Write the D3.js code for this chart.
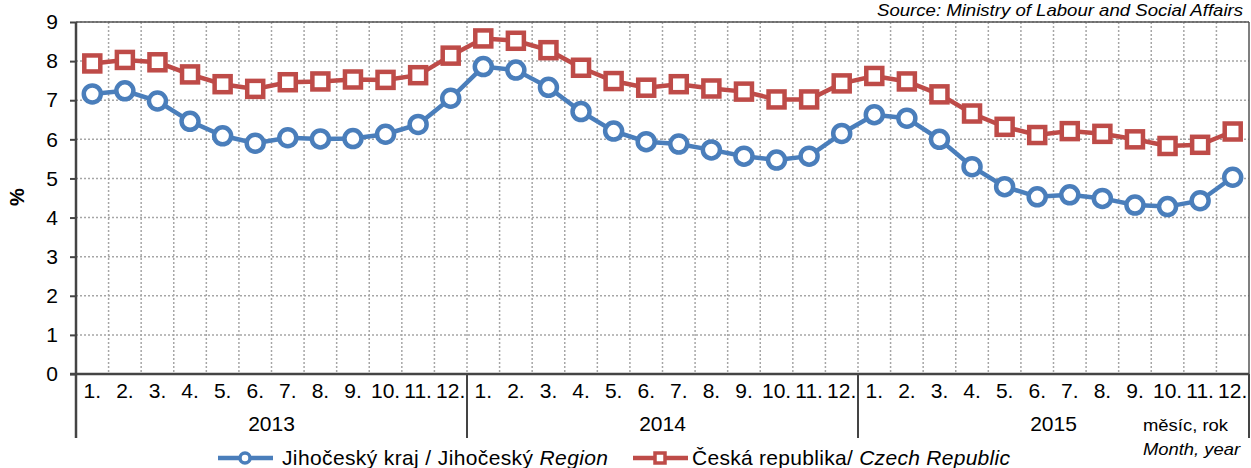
<!DOCTYPE html>
<html>
<head>
<meta charset="utf-8">
<script src="https://cdn.jsdelivr.net/npm/d3@7"></script>
<style>
  body { margin: 0; background: #fff; }
  text { font-family: "Liberation Sans", Arial, sans-serif; fill: #000; }
</style>
</head>
<body>
<div id="chart"></div>
<script>
// data
var years = ["2013", "2014", "2015"];
var months = ["1.", "2.", "3.", "4.", "5.", "6.", "7.", "8.", "9.", "10.", "11.", "12."];
var regionValues = [7.16, 7.24, 6.98, 6.46, 6.09, 5.90, 6.04, 6.01, 6.02, 6.13, 6.38, 7.05,
                    7.86, 7.77, 7.33, 6.71, 6.21, 5.94, 5.88, 5.73, 5.57, 5.47, 5.57, 6.15,
                    6.63, 6.54, 6.00, 5.30, 4.79, 4.53, 4.58, 4.49, 4.32, 4.28, 4.43, 5.03];
var czValues = [7.94, 8.03, 7.97, 7.66, 7.41, 7.29, 7.46, 7.48, 7.53, 7.52, 7.64, 8.14,
                8.58, 8.52, 8.28, 7.83, 7.49, 7.32, 7.41, 7.30, 7.22, 7.02, 7.02, 7.43,
                7.62, 7.48, 7.15, 6.66, 6.32, 6.11, 6.21, 6.14, 6.00, 5.83, 5.86, 6.20];
var yTicks = [0, 1, 2, 3, 4, 5, 6, 7, 8, 9];

var width = 1251, height = 468;
var margin = {top: 22, right: 2, bottom: 94, left: 76};
var blue = "#4a7ebb", red = "#be4b48";

var svg = d3.select("#chart").append("svg")
  .attr("width", width)
  .attr("height", height);

// categories: year|month
var cats = [];
years.forEach(function(y) { months.forEach(function(m) { cats.push(y + "|" + m); }); });

var x = d3.scaleBand()
  .domain(cats)
  .range([margin.left, width - margin.right]);

var y = d3.scaleLinear()
  .domain([0, 9])
  .range([height - margin.bottom, margin.top]);

var x0 = margin.left, x1 = width - margin.right;
var y0 = y(0), y1 = y(9);

// horizontal dotted grid
svg.append("g")
  .selectAll("line")
  .data(yTicks.slice(1))
  .enter().append("line")
    .attr("x1", x0).attr("x2", x1)
    .attr("y1", function(d) { return y(d); })
    .attr("y2", function(d) { return y(d); })
    .attr("stroke", "#a6a6a6")
    .attr("stroke-width", 1.5)
    .attr("stroke-dasharray", "2,2");

// vertical dotted grid at category boundaries
svg.append("g")
  .selectAll("line")
  .data(cats.slice(1))
  .enter().append("line")
    .attr("x1", function(d) { return x(d); })
    .attr("x2", function(d) { return x(d); })
    .attr("y1", y1).attr("y2", y0)
    .attr("stroke", "#a6a6a6")
    .attr("stroke-width", 1.5)
    .attr("stroke-dasharray", "2,2");

// plot border top / right
svg.append("line").attr("x1", x0).attr("x2", x1).attr("y1", y1).attr("y2", y1)
  .attr("stroke", "#555").attr("stroke-width", 1.5);
svg.append("line").attr("x1", x1).attr("x2", x1).attr("y1", y1).attr("y2", y0)
  .attr("stroke", "#555").attr("stroke-width", 1.5);

// y axis
var yAxis = svg.append("g")
  .attr("transform", "translate(" + x0 + ",0)")
  .call(d3.axisLeft(y).tickValues(yTicks).tickSize(6).tickPadding(12));
yAxis.select(".domain").remove();
yAxis.selectAll(".tick line").attr("stroke", "#444").attr("stroke-width", 2);
yAxis.selectAll(".tick text")
  .style("font-size", "21px")
  .style("font-family", "Liberation Sans, Arial, sans-serif")
  .attr("fill", "#000");
svg.append("line").attr("x1", x0).attr("x2", x0).attr("y1", y1).attr("y2", 438)
  .attr("stroke", "#444").attr("stroke-width", 2.5);

// x axis (months)
var xAxis = svg.append("g")
  .attr("transform", "translate(0," + y0 + ")")
  .call(d3.axisBottom(x).tickSize(0).tickPadding(9)
    .tickFormat(function(d) { return d.split("|")[1]; }));
xAxis.select(".domain").remove();
xAxis.selectAll(".tick text")
  .style("font-size", "21px")
  .style("font-family", "Liberation Sans, Arial, sans-serif")
  .attr("fill", "#000");
svg.append("line").attr("x1", x0 - 6).attr("x2", x1).attr("y1", y0).attr("y2", y0)
  .attr("stroke", "#444").attr("stroke-width", 2.5);

// year separators and labels
years.forEach(function(yr, i) {
  var a = x(yr + "|" + months[0]);
  var b = x(yr + "|" + months[months.length - 1]) + x.bandwidth();
  svg.append("line").attr("x1", b).attr("x2", b).attr("y1", y0).attr("y2", 438)
    .attr("stroke", "#444").attr("stroke-width", 2);
  svg.append("text")
    .attr("x", (a + b) / 2)
    .attr("y", 431)
    .attr("text-anchor", "middle")
    .style("font-size", "21px")
    .text(yr);
});

// lines and markers
var line = d3.line()
  .x(function(d, i) { return x(cats[i]) + x.bandwidth() / 2; })
  .y(function(d) { return y(d); });

svg.append("path").datum(czValues)
  .attr("d", line).attr("fill", "none")
  .attr("stroke", red).attr("stroke-width", 4.5);
svg.append("g").selectAll("rect")
  .data(czValues)
  .enter().append("rect")
    .attr("x", function(d, i) { return x(cats[i]) + x.bandwidth() / 2 - 8; })
    .attr("y", function(d) { return y(d) - 8; })
    .attr("width", 16).attr("height", 16)
    .attr("fill", "#fff").attr("stroke", red).attr("stroke-width", 4.5);

svg.append("path").datum(regionValues)
  .attr("d", line).attr("fill", "none")
  .attr("stroke", blue).attr("stroke-width", 4.5);
svg.append("g").selectAll("circle")
  .data(regionValues)
  .enter().append("circle")
    .attr("cx", function(d, i) { return x(cats[i]) + x.bandwidth() / 2; })
    .attr("cy", function(d) { return y(d); })
    .attr("r", 8.5)
    .attr("fill", "#fff").attr("stroke", blue).attr("stroke-width", 4.5);

// y title
svg.append("text")
  .attr("transform", "translate(24,197) rotate(-90)")
  .attr("text-anchor", "middle")
  .style("font-size", "20px")
  .style("font-weight", "bold")
  .text("%");

// source (kept fully inside the page)
svg.append("text")
  .attr("x", 1243).attr("y", 16)
  .attr("text-anchor", "end")
  .attr("textLength", 366)
  .attr("lengthAdjust", "spacingAndGlyphs")
  .style("font-size", "17px")
  .style("font-style", "italic")
  .text("Source: Ministry of Labour and Social Affairs");

// axis note
svg.append("text").attr("x", 1143).attr("y", 431)
  .attr("textLength", 85).attr("lengthAdjust", "spacingAndGlyphs")
  .style("font-size", "17px").text("měsíc, rok");
svg.append("text").attr("x", 1143).attr("y", 455)
  .attr("textLength", 97).attr("lengthAdjust", "spacingAndGlyphs")
  .style("font-size", "17px").style("font-style", "italic").text("Month, year");

// legend
var legendY = 458;
function legendItem(lx, color, shape, plain, ital, tx, tlen) {
  svg.append("line").attr("x1", lx).attr("x2", lx + 55).attr("y1", legendY).attr("y2", legendY)
    .attr("stroke", color).attr("stroke-width", 4.5);
  if (shape === "circle") {
    svg.append("circle").attr("cx", lx + 27).attr("cy", legendY).attr("r", 5)
      .attr("fill", "#fff").attr("stroke", color).attr("stroke-width", 3.5);
  } else {
    svg.append("rect").attr("x", lx + 22).attr("y", legendY - 5).attr("width", 10).attr("height", 10)
      .attr("fill", "#fff").attr("stroke", color).attr("stroke-width", 3.5);
  }
  var t = svg.append("text").attr("x", tx).attr("y", legendY + 7)
    .attr("textLength", tlen).attr("lengthAdjust", "spacing")
    .style("font-size", "21px");
  t.append("tspan").text(plain);
  t.append("tspan").style("font-style", "italic").text(ital);
}
legendItem(218, blue, "circle", "Jihočeský kraj / Jihočeský ", "Region", 282, 326);
legendItem(633, red, "rect", "Česká republika/ ", "Czech Republic", 692, 318);
</script>
</body>
</html>
